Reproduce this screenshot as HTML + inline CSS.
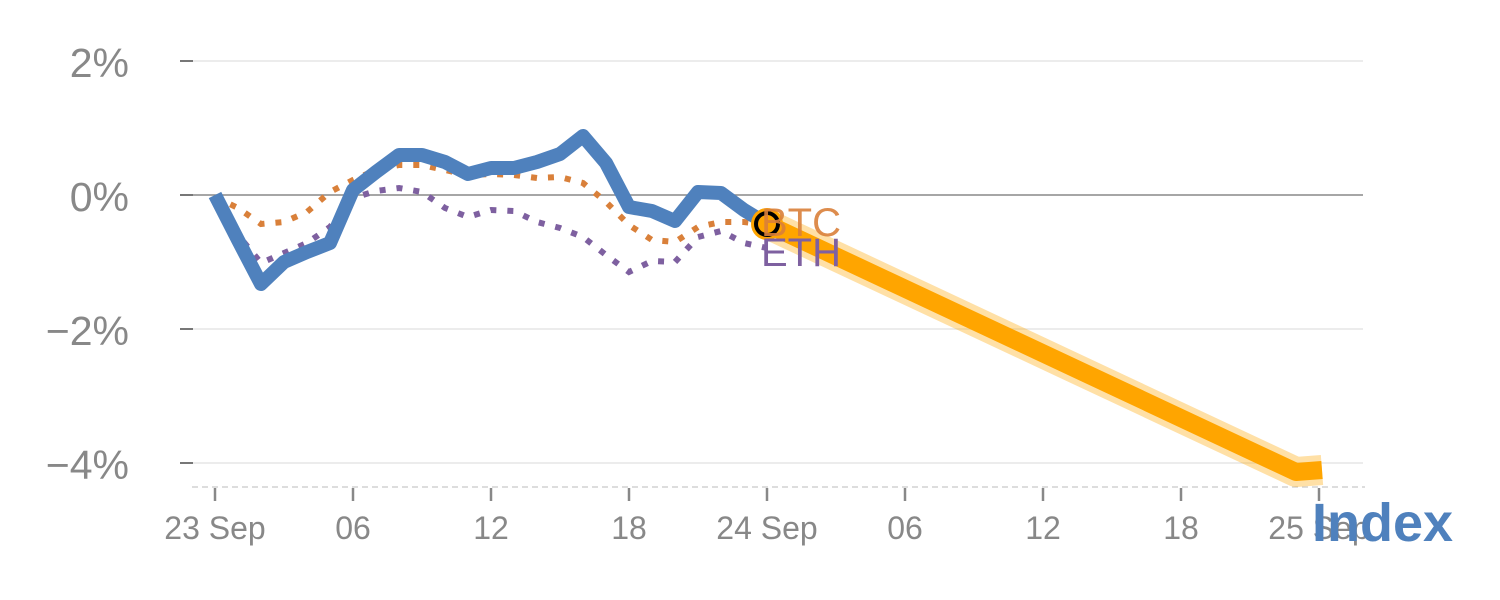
<!DOCTYPE html>
<html><head><meta charset="utf-8"><style>
html,body{margin:0;padding:0;background:#fff;}
svg{display:block;font-family:"Liberation Sans",Arial,sans-serif;}
</style></head><body>
<svg width="1500" height="600" viewBox="0 0 1500 600">
<g stroke="#e6e6e6" stroke-width="1.5">
<line x1="193" y1="61" x2="1363" y2="61"/>
<line x1="193" y1="329" x2="1363" y2="329"/>
<line x1="193" y1="463" x2="1363" y2="463"/>
</g>
<line x1="193" y1="195" x2="1363" y2="195" stroke="#888" stroke-width="1.5"/>
<g stroke="#777" stroke-width="2">
<line x1="180" y1="61" x2="193" y2="61"/><line x1="180" y1="195" x2="193" y2="195"/>
<line x1="180" y1="329" x2="193" y2="329"/><line x1="180" y1="463" x2="193" y2="463"/>
</g>
<line x1="192" y1="487" x2="1365" y2="487" stroke="#ddd" stroke-width="2" stroke-dasharray="6,4"/>
<g stroke="#888" stroke-width="2.5">
<line x1="215" y1="488" x2="215" y2="501"/><line x1="353" y1="488" x2="353" y2="501"/>
<line x1="491" y1="488" x2="491" y2="501"/><line x1="629" y1="488" x2="629" y2="501"/>
<line x1="767" y1="488" x2="767" y2="501"/><line x1="905" y1="488" x2="905" y2="501"/>
<line x1="1043" y1="488" x2="1043" y2="501"/><line x1="1181" y1="488" x2="1181" y2="501"/>
<line x1="1319" y1="488" x2="1319" y2="501"/>
</g>
<g fill="#888" font-size="41" text-anchor="end">
<text x="129" y="77">2%</text><text x="129" y="211">0%</text>
<text x="129" y="345">−2%</text><text x="129" y="479">−4%</text>
</g>
<g fill="#888" font-size="32" text-anchor="middle">
<text x="215" y="539">23 Sep</text><text x="353" y="539">06</text><text x="491" y="539">12</text>
<text x="629" y="539">18</text><text x="767" y="539">24 Sep</text><text x="905" y="539">06</text>
<text x="1043" y="539">12</text><text x="1181" y="539">18</text><text x="1319" y="539">25 Sep</text>
</g>
<polyline fill="none" stroke="#ffa500" stroke-opacity="0.35" stroke-width="30" stroke-linejoin="round" points="767,224 1296,472 1322,470"/>
<polyline fill="none" stroke="#ffa500" stroke-width="18" stroke-linejoin="round" points="767,224 1296,472 1322,470"/>
<polyline fill="none" stroke="#7e60a0" stroke-width="6" stroke-dasharray="6,11" points="215,200 238,235 261,263 284,253 307,243 330,227 353,198 376,191 399,188 422,192 445,208 468,217 491,210 514,211 537,222 560,228 583,237 606,255 629,272 652,261 675,262 698,237 721,231 744,243 767,248"/>
<polyline fill="none" stroke="#d9803a" stroke-width="6" stroke-dasharray="6,11" points="215,197 238,208 261,224 284,222 307,212 330,192 353,180 376,170 399,165 422,165 445,170 468,175 491,174 514,175 537,178 560,177 583,183 606,202 629,225 652,240 675,242 698,227 721,222 744,222 767,225"/>
<polyline fill="none" stroke="#4f81bd" stroke-width="14" stroke-linejoin="round" points="215,195 238,240 261,284 284,262 307,252 330,243 353,190 376,172 399,155 422,155 445,162 468,174 491,168 514,168 537,162 560,154 583,136 606,163 629,207 652,211 675,221 698,192 721,193 744,210 767,224"/>
<circle cx="767" cy="224" r="16" fill="#ffa500"/>
<circle cx="767" cy="224" r="11" fill="#ffa500" stroke="#000" stroke-width="4"/>
<text x="761" y="236" font-size="40" fill="#d9803a" fill-opacity="0.9">BTC</text>
<text x="761" y="266" font-size="40" fill="#7e60a0">ETH</text>
<text x="1312" y="541" font-size="54" font-weight="bold" fill="#4f81bd">Index</text>
</svg>
</body></html>
